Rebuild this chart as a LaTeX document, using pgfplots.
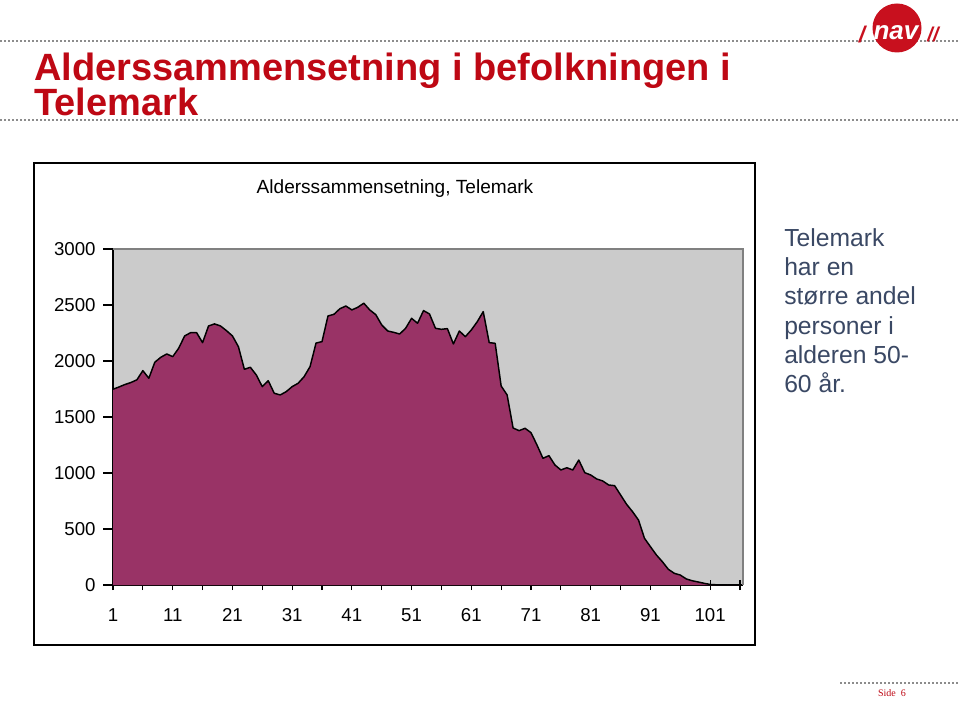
\documentclass[border=0pt]{standalone}
\usepackage{pgfplots}
\pgfplotsset{compat=1.18}
\usepackage{fontspec}
\usepackage{graphicx}
\setmainfont{Liberation Sans}
\newfontfamily\seriffont{Liberation Serif}
\definecolor{titlered}{RGB}{190,8,20}
\definecolor{areacol}{RGB}{153,51,102}
\definecolor{plotbg}{RGB}{203,203,203}
\definecolor{sidetext}{RGB}{58,72,100}
\definecolor{navred}{RGB}{200,16,30}
\definecolor{dotgray}{RGB}{140,140,140}

\pgfplotstableread{
age val
1 1748
2 1768
3 1790
4 1808
5 1832
6 1914
7 1846
8 1989
9 2033
10 2063
11 2039
12 2114
13 2224
14 2253
15 2253
16 2164
17 2313
18 2331
19 2313
20 2271
21 2224
22 2128
23 1926
24 1944
25 1875
26 1771
27 1824
28 1712
29 1697
30 1726
31 1771
32 1801
33 1860
34 1950
35 2160
36 2173
37 2402
38 2417
39 2467
40 2491
41 2456
42 2480
43 2516
44 2456
45 2414
46 2322
47 2268
48 2256
49 2241
50 2292
51 2381
52 2337
53 2450
54 2420
55 2292
56 2283
57 2289
58 2152
59 2268
60 2217
61 2277
62 2351
63 2441
64 2164
65 2158
66 1777
67 1697
68 1402
69 1378
70 1399
71 1360
72 1250
73 1131
74 1155
75 1072
76 1027
77 1047
78 1027
79 1116
80 1003
81 982
82 947
83 929
84 893
85 887
86 804
87 721
88 655
89 580
90 417
91 342
92 268
93 208
94 140
95 104
96 89
97 54
98 38
99 27
100 15
101 5
102 2
103 1
104 0
105 0
106 0
}\agedata

\begin{document}
\begin{tikzpicture}[x=0.75pt,y=0.75pt]
\path[fill=white,use as bounding box] (0,0) rectangle (960,700);

% dotted rules
\draw[dotgray,line width=1.3pt,dash pattern=on 1.3pt off 1.7pt] (0,659) -- (960,659);
\draw[dotgray,line width=1.3pt,dash pattern=on 1.3pt off 1.7pt] (0,580) -- (960,580);
\draw[dotgray,line width=1.3pt,dash pattern=on 1.3pt off 1.7pt] (840,17) -- (960,17);

% logo
\fill[navred] (897,672) circle (24.5);
\node[white,font=\fontsize{19.5}{20}\selectfont\bfseries\itshape] at (896,667) {nav};
\node[navred,font=\fontsize{17}{18}\selectfont\bfseries\itshape] at (862,665) {/};
\node[navred,font=\fontsize{15}{16}\selectfont\bfseries\itshape] at (933,666) {//};

% main title
\node[anchor=base west,inner sep=0,text=titlered,font=\fontsize{28.5}{30}\selectfont\bfseries] at (34,619) {Alderssammensetning i befolkningen i};
\node[anchor=base west,inner sep=0,text=titlered,font=\fontsize{28.5}{30}\selectfont\bfseries] at (34,584) {Telemark};

% page number
\node[anchor=base,inner sep=0,text=titlered,font=\seriffont\fontsize{7.5}{8}\selectfont] at (892,4) {Side~~6};

% chart frame
\draw[line width=1.5pt] (34,537) rectangle (755,55);

% chart title
\node[anchor=base,inner sep=0,font=\fontsize{14.3}{16}\selectfont] at (395,506) {Alderssammensetning, Telemark};

% side text
\node[anchor=north west,inner sep=0,align=left,text=sidetext,font=\fontsize{18.5}{22}\selectfont] at (784,472) {Telemark\\har en\\større andel\\personer i\\alderen 50-\\60 år.};

\begin{axis}[
  at={(84.75pt,86.25pt)}, anchor=south west,
  scale only axis, width=472.5pt, height=252pt,
  xmin=1, xmax=106.5, ymin=0, ymax=3000,
  axis x line=bottom, axis y line=left,
  axis line style={-, black, line width=0.9pt},
  axis background/.style={fill=plotbg},
  xtick={1,11,...,101},
  minor xtick={6,16,...,106},
  ytick={0,500,...,3000},
  xtick align=center, ytick align=outside,
  major tick length=7.5pt, minor tick length=7.5pt,
  tick style={black, line width=0.9pt},
  minor tick style={black, line width=0.9pt},
  /pgf/number format/assume math mode=true,
  /pgf/number format/1000 sep={},
  ticklabel style={font=\fontsize{14}{16}\selectfont},
  xticklabel style={text height=10pt, text depth=0pt, yshift=-10pt},
  yticklabel style={xshift=-2pt},
  clip=false,
]
\addplot[fill=areacol, draw=none] table[x=age,y=val] {\agedata} \closedcycle;
\addplot[black, line width=1.1pt, line join=round] table[x=age,y=val] {\agedata};
\draw[gray, line width=0.8pt] (rel axis cs:0,1) -- (rel axis cs:1,1) -- (rel axis cs:1,0);
\end{axis}
\end{tikzpicture}
\end{document}
